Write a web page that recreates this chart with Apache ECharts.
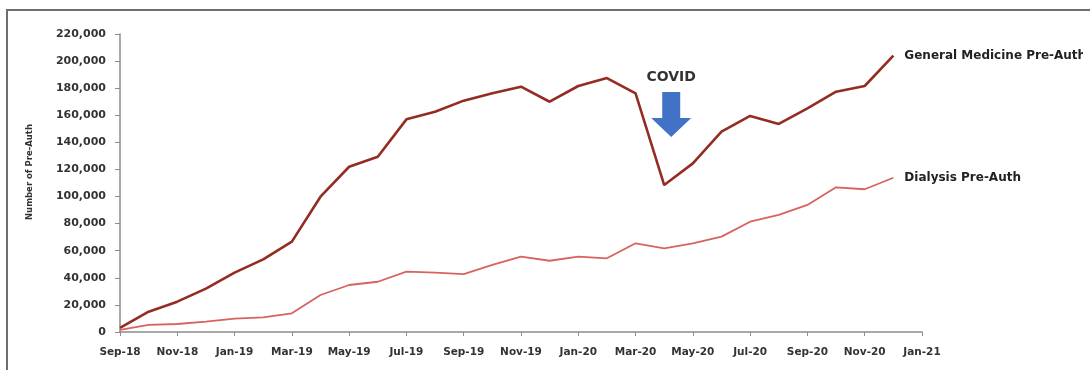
<!DOCTYPE html>
<html>
<head>
<meta charset="utf-8">
<script src="https://cdn.jsdelivr.net/npm/echarts@6/dist/echarts.min.js"></script>
<style>
  html,body{margin:0;padding:0;background:#fff;}
  #main{width:1090px;height:370px;}
</style>
</head>
<body>
<div id="main"></div>
<script>
// monthly categories, Sep-18 .. Jan-21
var months=['Sep-18','Oct-18','Nov-18','Dec-18','Jan-19','Feb-19','Mar-19','Apr-19','May-19','Jun-19',
    'Jul-19','Aug-19','Sep-19','Oct-19','Nov-19','Dec-19','Jan-20','Feb-20','Mar-20','Apr-20',
    'May-20','Jun-20','Jul-20','Aug-20','Sep-20','Oct-20','Nov-20','Dec-20','Jan-21'];

// General Medicine Pre-Auth
var generalMedicine=[3000,15000,22400,32000,43800,53600,66700,99900,122000,129400,
    157000,162600,170800,176200,181100,170000,181600,187500,176200,108500,
    124500,147900,159500,153600,165100,177400,181600,204000];

// Dialysis Pre-Auth
var dialysis=[1500,5200,5900,7600,9800,10800,13800,27300,34700,37100,
    44500,43800,42800,49500,55600,52600,55600,54400,65500,61800,
    65500,70400,81400,86400,93800,106800,105400,113900];

// y axis ticks
var yMax=220000, yStep=20000;

// COVID marker position (month, value)
var covidMark=['Apr-20',160600];

var chart=echarts.init(document.getElementById('main'));

var labelFont='DejaVu Sans';

var option={
    backgroundColor:'#ffffff',
    animation:false,
    grid:{left:120,top:34,right:168,bottom:38,containLabel:false},
    xAxis:{
        type:'category',
        boundaryGap:false,
        data:months,
        axisLine:{lineStyle:{color:'#8c8c8c',width:1.5}},
        axisTick:{show:true,interval:1,length:4,lineStyle:{color:'#8c8c8c'}},
        axisLabel:{
            interval:1,
            margin:15,
            color:'#333',
            fontFamily:labelFont,
            fontWeight:'bold',
            fontSize:10.5
        },
        splitLine:{show:false}
    },
    yAxis:{
        type:'value',
        min:0,
        max:yMax,
        interval:yStep,
        name:'Number of Pre-Auth',
        nameLocation:'middle',
        nameRotate:90,
        nameGap:86,
        nameTextStyle:{color:'#333',fontFamily:labelFont,fontWeight:'bold',fontSize:8.5,padding:[0,0,0,22]},
        axisLine:{show:true,lineStyle:{color:'#8c8c8c',width:1.5}},
        axisTick:{show:true,length:5,lineStyle:{color:'#8c8c8c'}},
        axisLabel:{
            margin:14,
            color:'#333',
            fontFamily:labelFont,
            fontWeight:'bold',
            fontSize:11,
            formatter:function(v){return v.toLocaleString('en-US');}
        },
        splitLine:{show:false}
    },
    series:[
        {
            name:'General Medicine Pre-Auth',
            type:'line',
            data:generalMedicine,
            showSymbol:false,
            lineStyle:{color:'#952c22',width:2.6},
            itemStyle:{color:'#952c22'},
            endLabel:{
                show:true,
                formatter:'{a}',
                distance:11,
                color:'#222',
                fontFamily:labelFont,
                fontWeight:'bold',
                fontSize:12
            },
            markPoint:{
                silent:true,
                symbol:'path://M11,0 L29,0 L29,26 L40,26 L20,45 L0,26 L11,26 Z',
                symbolSize:[40,45],
                symbolOffset:[7,0],
                itemStyle:{color:'#4272c6'},
                label:{
                    show:true,
                    position:'top',
                    distance:8,
                    formatter:'COVID',
                    color:'#333',
                    fontFamily:labelFont,
                    fontWeight:'bold',
                    fontSize:14
                },
                data:[{coord:covidMark}]
            }
        },
        {
            name:'Dialysis Pre-Auth',
            type:'line',
            data:dialysis,
            showSymbol:false,
            lineStyle:{color:'#d8625e',width:1.8},
            itemStyle:{color:'#d8625e'},
            endLabel:{
                show:true,
                formatter:'{a}',
                distance:11,
                color:'#222',
                fontFamily:labelFont,
                fontWeight:'bold',
                fontSize:12
            }
        }
    ],
    graphic:[
        // mask that cuts the long end label like in the original
        {type:'rect',z:90,shape:{x:1083,y:12,width:10,height:360},style:{fill:'#ffffff'}},
        // outer frame (only top and left edges are in view)
        {type:'rect',z:100,shape:{x:7,y:10,width:1100,height:400},style:{fill:null,stroke:'#6e6e6e',lineWidth:2}}
    ]
};

chart.setOption(option);
</script>
</body>
</html>
